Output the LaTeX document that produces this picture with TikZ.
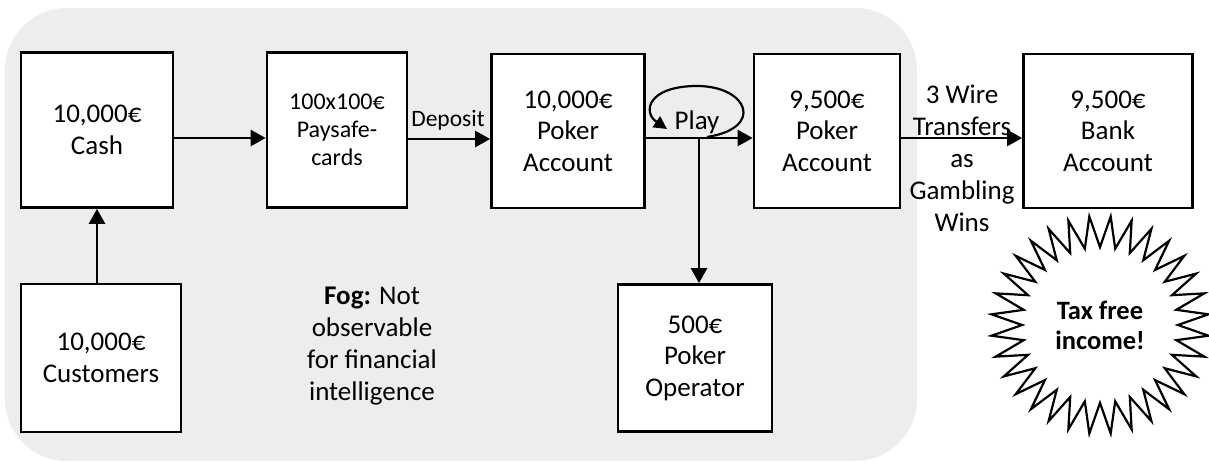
\documentclass[tikz,border=0pt]{standalone}
\usepackage{fontspec}
\setmainfont{Carlito}
\usetikzlibrary{arrows.meta,shapes.geometric}
\definecolor{foggray}{HTML}{EDEDED}
\tikzset{
  box/.style={draw=black, line width=2.7pt, fill=white, inner sep=0pt, align=center,
              font=\fontsize{27}{31.5}\selectfont},
  smallbox/.style={box, font=\fontsize{24}{28}\selectfont},
  flow/.style={line width=2.5pt, -{Triangle[length=15pt,width=16pt]}},
  lbl/.style={align=center, inner sep=0pt, font=\fontsize{27}{32}\selectfont},
}
\begin{document}
\begin{tikzpicture}[x=1pt,y=-1pt]
\useasboundingbox (0,0) rectangle (1209,461);
\fill[foggray, rounded corners=62pt] (5,8) rectangle (917,461);

\node[box, minimum width=152pt, minimum height=155pt] (cash) at (97,130) {10,000€\\Cash};
\node[smallbox, minimum width=140pt, minimum height=155pt] (psc) at (337,130) {100x100€\\Paysafe-\\cards};
\node[box, minimum width=153pt, minimum height=154pt] (pa1) at (568,131) {10,000€\\Poker\\Account};
\node[box, minimum width=146pt, minimum height=154pt] (pa2) at (827,131) {9,500€\\Poker\\Account};
\node[box, minimum width=169pt, minimum height=154pt] (bank) at (1108,131) {9,500€\\Bank\\Account};
\node[box, minimum width=160pt, minimum height=148pt] (cust) at (101,358) {10,000€\\Customers};
\node[box, minimum width=154pt, minimum height=147pt] (oper) at (695,358) {500€\\Poker\\Operator};

\node[lbl, font=\fontsize{23.5}{28}\selectfont] (dep) at (448,120) {Deposit};
\node[lbl] (play) at (697,122) {Play};
\node[lbl] (wire) at (962,158) {3 Wire\\Transfers\\as\\Gambling\\Wins};
\node[lbl] (fog) at (372,346) {\textbf{Fog:} Not\\observable\\for financial\\intelligence};

\node[star, star points=32, star point ratio=1.4, shape border rotate=5.625, draw=black, line width=2.2pt,
      fill=white, minimum size=218pt, inner sep=0pt] (tax) at (1100,325) {};
\node[lbl, font=\bfseries\fontsize{26.5}{30}\selectfont] (taxtext) at (tax.center) {Tax free\\income!};

\coordinate (junc) at (699,138);

\draw[flow] (cust.north -| 97,0) -- (cash.south -| 97,0);
\draw[flow] (cash.east |- 0,138) -- (psc.west |- 0,138);
\draw[flow] (psc.east |- 0,139) -- (pa1.west |- 0,139);
\draw[flow] (pa1.east |- junc) -- (pa2.west |- junc);
\draw[flow] (pa2.east |- junc) -- (bank.west |- junc);
\draw[flow] (junc) -- (junc |- oper.north);
\draw[line width=2.2pt, -{Triangle[length=13pt,width=13pt]}]
  (707,137) .. controls (765,128) and (748,86) .. (697,86)
  .. controls (648,86) and (642,112) .. (667,129);
\end{tikzpicture}
\end{document}
